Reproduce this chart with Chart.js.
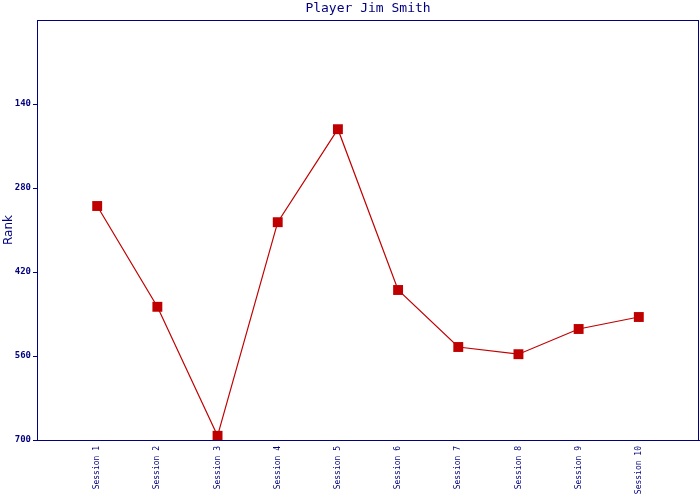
<!DOCTYPE html>
<html>
<head>
<meta charset="utf-8">
<script src="https://cdn.jsdelivr.net/npm/chart.js@4/dist/chart.umd.min.js"></script>
<style>
  body { margin: 0; background: #fff; }
  #rankChart { display: block; }
</style>
</head>
<body>
<canvas id="rankChart" width="700" height="500"></canvas>
<script>
// data
const chartTitle = 'Player Jim Smith';
const sessions = ['Session 1', 'Session 2', 'Session 3', 'Session 4', 'Session 5',
                  'Session 6', 'Session 7', 'Session 8', 'Session 9', 'Session 10'];
const ranks = [310, 478, 693, 337, 182, 450, 545, 557, 515, 495];
const rankTicks = [140, 280, 420, 560, 700];

const navy = '#000080';
const red = '#c00000';

// box round the plot area + title centred over the plot (not the canvas)
const plotBox = {
    id: 'plotBox',
    afterDraw(chart) {
        const { ctx, chartArea } = chart;
        ctx.save();
        ctx.strokeStyle = navy;
        ctx.lineWidth = 1;
        ctx.strokeRect(Math.round(chartArea.left) + 0.5, Math.round(chartArea.top) + 0.5,
            Math.round(chartArea.right - chartArea.left) - 1, Math.round(chartArea.bottom - chartArea.top));
        ctx.fillStyle = navy;
        ctx.font = '13px "DejaVu Sans Mono"';
        ctx.textAlign = 'center';
        ctx.textBaseline = 'middle';
        ctx.fillText(chartTitle, (chartArea.left + chartArea.right) / 2, 9);
        ctx.restore();
    }
};

const ctx = document.getElementById('rankChart').getContext('2d');
const rankChart = new Chart(ctx, {
    type: 'line',
    data: {
        datasets: [{
            label: 'Rank',
            data: ranks.map((r, i) => ({ x: i + 1, y: r })),
            borderColor: red,
            backgroundColor: red,
            borderWidth: 1.2,
            tension: 0,
            pointStyle: 'rect',
            pointRadius: 7,
            pointBorderWidth: 0,
            pointBackgroundColor: red
        }]
    },
    options: {
        responsive: false,
        animation: false,
        layout: { autoPadding: false, padding: { right: 1, top: 20, left: 0, bottom: 0 } },
        plugins: {
            legend: { display: false },
            tooltip: { enabled: false },
            title: { display: false }
        },
        scales: {
            x: {
                type: 'linear',
                min: 0,
                max: 11,
                afterBuildTicks: scale => { scale.ticks = sessions.map((s, i) => ({ value: i + 1 })); },
                afterFit: scale => {
                    scale.height = 60;
                    scale.paddingLeft = 0;
                    scale.paddingRight = 0;
                },
                grid: { display: false },
                border: { display: true, color: navy, width: 1 },
                ticks: {
                    color: navy,
                    font: { family: 'DejaVu Sans Mono', size: 8 },
                    minRotation: 90,
                    maxRotation: 90,
                    autoSkip: false,
                    padding: -2,
                    callback: v => sessions[v - 1] || ''
                }
            },
            y: {
                reverse: true,
                min: 0,
                max: 700,
                afterBuildTicks: scale => { scale.ticks = rankTicks.map(v => ({ value: v })); },
                afterFit: scale => { scale.width = 37; },
                title: {
                    display: true,
                    text: 'Rank',
                    color: navy,
                    font: { family: 'DejaVu Sans', size: 12 },
                    padding: { top: 2, bottom: 0 }
                },
                grid: {
                    drawOnChartArea: false,
                    drawTicks: true,
                    tickLength: 4,
                    color: navy
                },
                border: { display: true, color: navy, width: 1 },
                ticks: {
                    color: navy,
                    font: { family: 'DejaVu Sans Mono', size: 9, weight: 'bold' },
                    padding: 2
                }
            }
        }
    },
    plugins: [plotBox]
});
</script>
</body>
</html>
